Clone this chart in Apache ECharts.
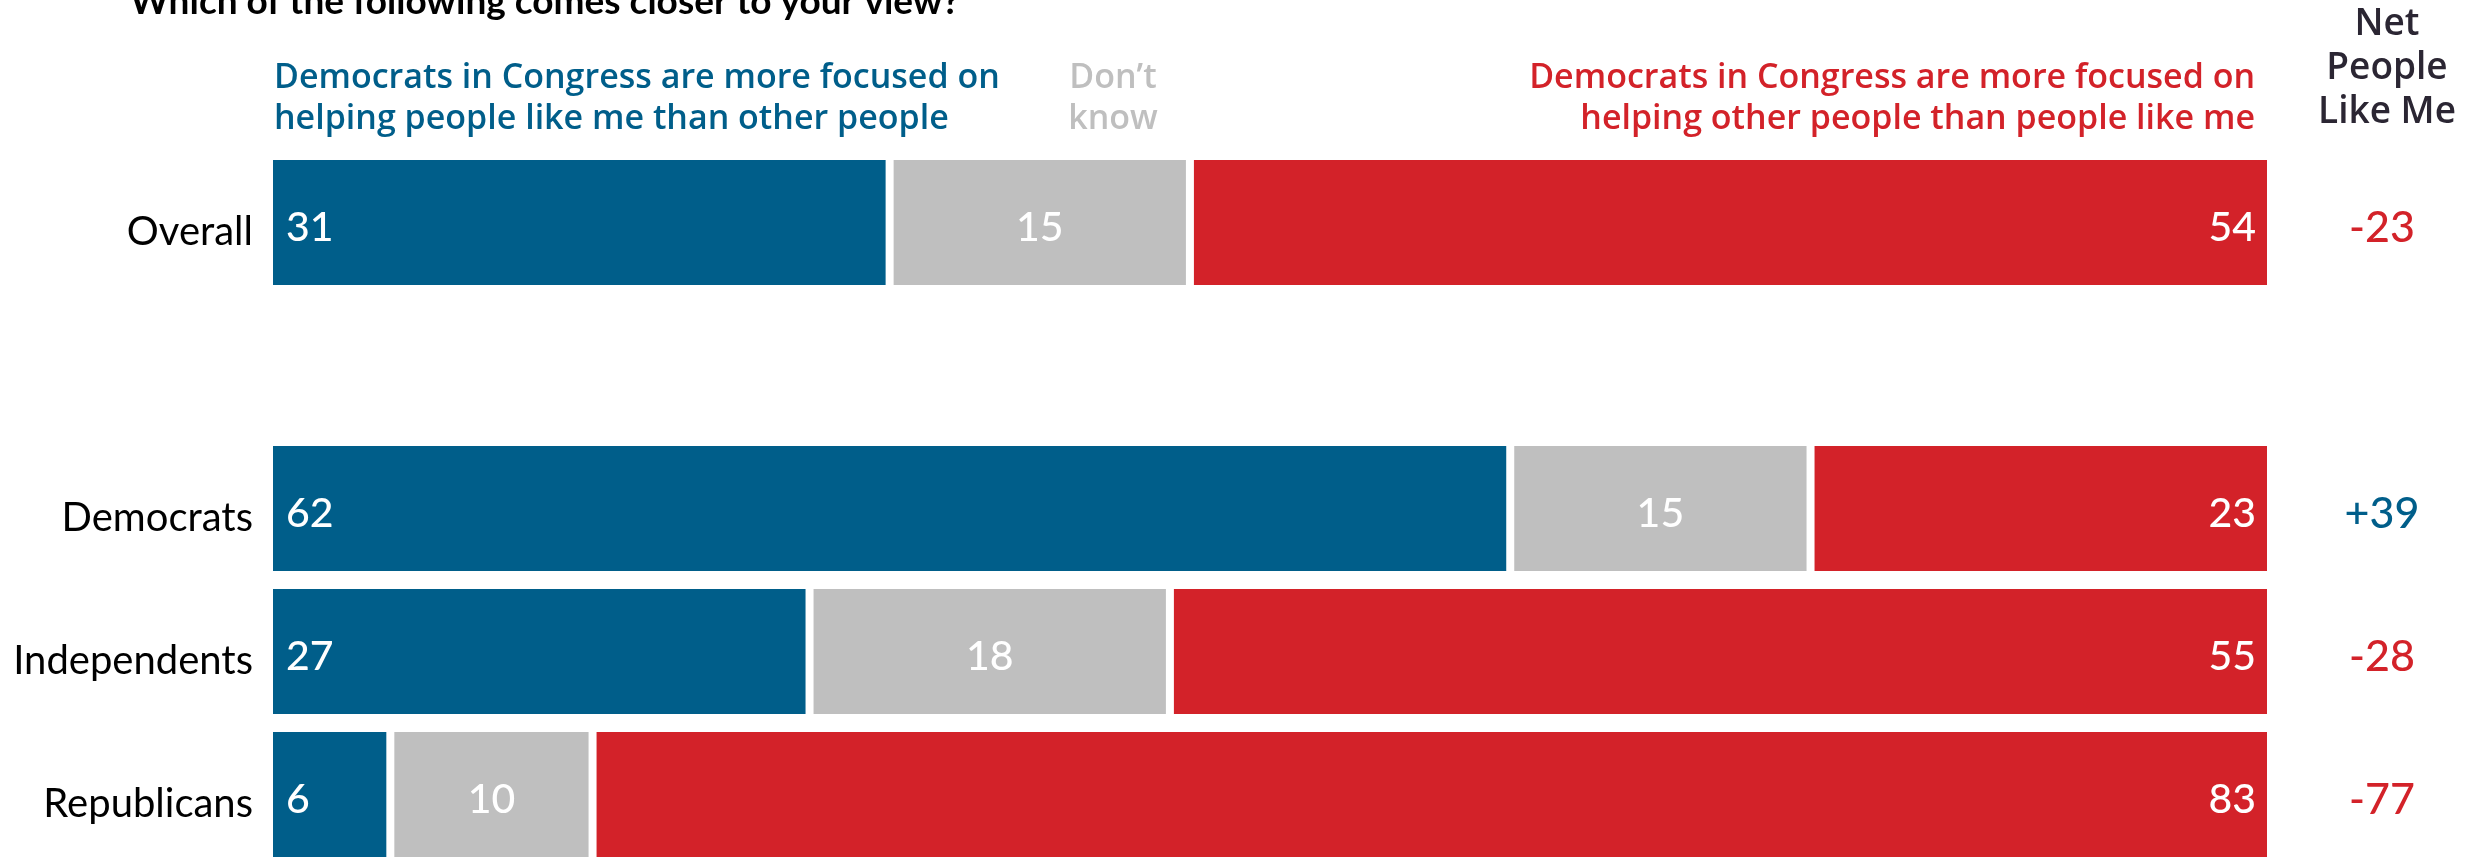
<!DOCTYPE html>
<html>
<head>
<meta charset="utf-8">
<script src="https://cdn.jsdelivr.net/npm/echarts@6/dist/echarts.min.js"></script>
<style>
  html, body { margin: 0; padding: 0; background: #ffffff; }
  #chart { width: 2481px; height: 866px; }
</style>
</head>
<body>
<div id="chart"></div>
<script>
// ---- data ----
const categories = ['Overall', '', 'Democrats', 'Independents', 'Republicans'];
const focusedOnMe = [31, null, 62, 27, 6];
const dontKnow = [15, null, 15, 18, 10];
const focusedOnOthers = [54, null, 23, 55, 83];
const netLikeMe = ['-23', '', '+39', '-28', '-77'];

const titleText = 'Which of the following comes closer to your view?';
const headerMe = 'Democrats in Congress are more focused on\nhelping people like me than other people';
const headerDK = 'Don\u2019t\nknow';
const headerOthers = 'Democrats in Congress are more focused on\nhelping other people than people like me';
const headerNet = 'Net\nPeople\nLike Me';

// ---- styling ----
const BLUE = '#005E8A';
const GRAY = '#BFBFBF';
const RED = '#D32229';
const DARK = '#2B2633';
const FONT = 'Lato';
const HFONT = '"Open Sans"';

// each row is drawn as a 100% stacked bar
function shares(arr) {
  return arr.map((v, i) => {
    if (v === null) return '-';
    const total = focusedOnMe[i] + dontKnow[i] + focusedOnOthers[i];
    return v / total * 100;
  });
}

const numLabel = (arr, pos, dist) => ({
  show: true,
  position: pos,
  distance: dist,
  offset: [0, 5],
  color: '#ffffff',
  fontFamily: FONT,
  fontWeight: 500,
  fontSize: 41,
  formatter: p => (arr[p.dataIndex] === null ? '' : String(arr[p.dataIndex]))
});

const barCommon = {
  type: 'bar',
  stack: 'all',
  barWidth: 133,
  silent: true,
  animation: false
};

const chart = echarts.init(document.getElementById('chart'), null, { renderer: 'canvas' });

chart.setOption({
  backgroundColor: '#ffffff',
  animation: false,
  grid: { left: 269, width: 2002, top: 151, height: 730, containLabel: false },
  xAxis: { type: 'value', min: 0, max: 100, show: false },
  yAxis: [
    {
      type: 'category', data: categories, inverse: true,
      axisLine: { show: false }, axisTick: { show: false },
      axisLabel: {
        interval: 0, margin: 16,
        formatter: v => (v ? '{s| }\n{a|' + v + '}' : ''),
        rich: {
          s: { fontSize: 1, lineHeight: 19 },
          a: { color: '#000000', fontFamily: FONT, fontSize: 40, fontWeight: 400, align: 'right' }
        }
      }
    },
    {
      type: 'category', data: categories, inverse: true, position: 'right',
      axisLine: { show: false }, axisTick: { show: false },
      axisLabel: {
        interval: 0, margin: 111, align: 'center',
        formatter: (v, i) => {
          const s = netLikeMe[i];
          if (!s) return '';
          return '{s| }\n' + (s.charAt(0) === '+' ? '{pos|' + s + '}' : '{neg|' + s + '}');
        },
        rich: {
          s: { fontSize: 1, lineHeight: 11 },
          pos: { color: BLUE, fontFamily: FONT, fontSize: 43, fontWeight: 500, align: 'center' },
          neg: { color: RED, fontFamily: FONT, fontSize: 43, fontWeight: 500, align: 'center' }
        }
      }
    }
  ],
  series: [
    Object.assign({}, barCommon, {
      name: 'me', data: shares(focusedOnMe), color: BLUE,
      itemStyle: { color: BLUE, borderColor: '#ffffff', borderWidth: 4 },
      label: numLabel(focusedOnMe, 'insideLeft', 17)
    }),
    Object.assign({}, barCommon, {
      name: 'dk', data: shares(dontKnow), color: GRAY,
      itemStyle: { color: GRAY, borderColor: '#ffffff', borderWidth: 4 },
      label: numLabel(dontKnow, 'inside', 0)
    }),
    Object.assign({}, barCommon, {
      name: 'others', data: shares(focusedOnOthers), color: RED,
      itemStyle: { color: RED, borderColor: '#ffffff', borderWidth: 4 },
      label: numLabel(focusedOnOthers, 'insideRight', 15)
    })
  ],
  graphic: [
    {
      type: 'text', x: 130, y: 2, silent: true,
      style: {
        text: titleText, fill: '#000000', fontFamily: FONT, fontWeight: 'bold', fontSize: 37,
        align: 'left', verticalAlign: 'middle'
      }
    },
    {
      type: 'text', x: 274, y: 99, silent: true,
      style: {
        text: headerMe, fill: BLUE, fontFamily: HFONT, fontWeight: 600, fontSize: 34,
        lineHeight: 41, align: 'left', verticalAlign: 'middle'
      }
    },
    {
      type: 'text', x: 1113, y: 99, silent: true,
      style: {
        text: headerDK, fill: GRAY, fontFamily: HFONT, fontWeight: 600, fontSize: 34,
        lineHeight: 41, align: 'center', verticalAlign: 'middle'
      }
    },
    {
      type: 'text', x: 2255, y: 99, silent: true,
      style: {
        text: headerOthers, fill: RED, fontFamily: HFONT, fontWeight: 600, fontSize: 34,
        lineHeight: 41, align: 'right', verticalAlign: 'middle'
      }
    },
    {
      type: 'text', x: 2387, y: 68, silent: true,
      style: {
        text: headerNet, fill: DARK, fontFamily: HFONT, fontWeight: 600, fontSize: 37,
        lineHeight: 44, align: 'center', verticalAlign: 'middle'
      }
    }
  ]
});
</script>
</body>
</html>
